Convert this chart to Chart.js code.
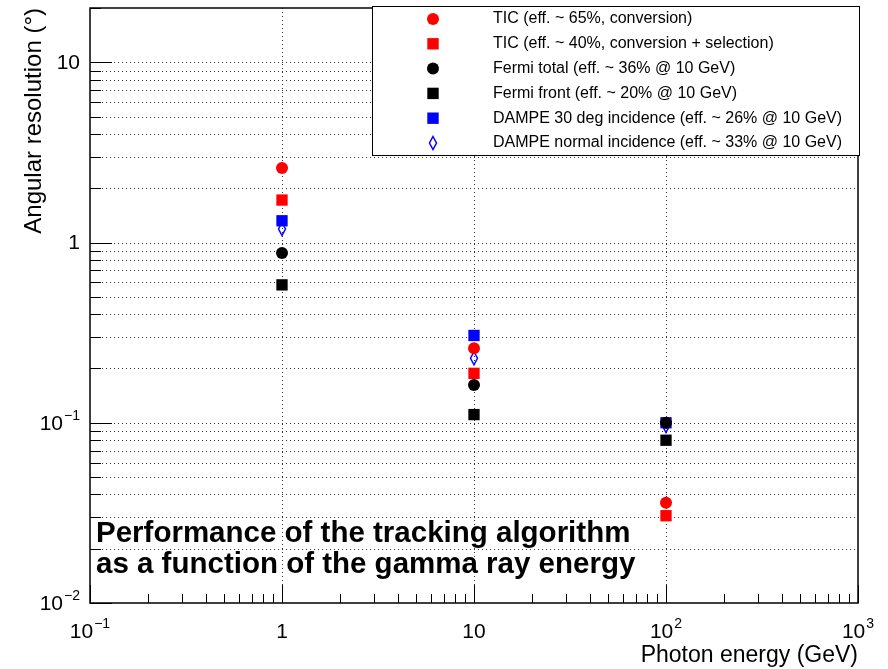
<!DOCTYPE html>
<html>
<head>
<meta charset="utf-8">
<script src="https://cdn.jsdelivr.net/npm/chart.js@4.4.0/dist/chart.umd.min.js"></script>
<style>
  html, body { margin: 0; padding: 0; background: #fff; }
  #wrap { width: 888px; height: 669px; }
</style>
</head>
<body>
<div id="wrap"><canvas id="chart" width="888" height="669"></canvas></div>
<script>
// photon energy (GeV) of each measurement
const energies = [1, 10, 100];

// angular resolution (deg) per sample
const ticConversion = [2.59, 0.259, 0.036];
const ticSelection  = [1.72, 0.188, 0.0305];
const fermiTotal    = [0.875, 0.162, 0.1];
const fermiFront    = [0.582, 0.111, 0.08];
const dampe30deg    = [1.32, 0.305, 0.1];
const dampeNormal   = [1.19, 0.228, 0.096];

const seriesLabels = [
    'TIC (eff. ~ 65%, conversion)',
    'TIC (eff. ~ 40%, conversion + selection)',
    'Fermi total (eff. ~ 36% @ 10 GeV)',
    'Fermi front (eff. ~ 20% @ 10 GeV)',
    'DAMPE 30 deg incidence (eff. ~ 26% @ 10 GeV)',
    'DAMPE normal incidence (eff. ~ 33% @ 10 GeV)'
];

// axis ticks: [base, exponent]
const xMajorTicks = [0.1, 1, 10, 100, 1000];
const xTickLabels = [['10', '\u22121'], ['1', ''], ['10', ''], ['10', '2'], ['10', '3']];
const yMajorTicks = [0.01, 0.1, 1, 10];
const yTickLabels = [['10', '\u22122'], ['10', '\u22121'], ['1', ''], ['10', '']];

const xTitle = 'Photon energy (GeV)';
const yTitle = 'Angular resolution (\u00b0)';
const noteLines = [
    'Performance of the tracking algorithm',
    'as a function of the gamma ray energy'
];

const FONT = '"Liberation Sans", Arial, Helvetica, sans-serif';

// minor ticks 2..9 in each decade
function minorTicks(majors, top) {
    const out = [];
    majors.forEach(m => {
        for (let k = 2; k <= 9; k++) {
            const v = m * k;
            if (v < top * 1.0001) out.push(v);
        }
    });
    return out;
}
const xMinorTicks = minorTicks(xMajorTicks.slice(0, -1), 1000);
const yMinorTicks = minorTicks(yMajorTicks, 20);

// open narrow diamond marker (ROOT style 27)
function diamondMarker() {
    const c = document.createElement('canvas');
    c.width = 10; c.height = 16;
    const g = c.getContext('2d');
    g.strokeStyle = '#0000ff';
    g.lineWidth = 1.5;
    g.beginPath();
    g.moveTo(5, 1.5); g.lineTo(8.5, 8); g.lineTo(5, 14.5); g.lineTo(1.5, 8);
    g.closePath();
    g.stroke();
    return c;
}
const diamond = diamondMarker();

const toPoints = arr => energies.map((e, i) => ({ x: e, y: arr[i] }));

const seriesStyle = [
    { data: ticConversion, color: '#ff0000', shape: 'circle', order: 1 },
    { data: ticSelection,  color: '#ff0000', shape: 'rect',   order: 1 },
    { data: fermiTotal,    color: '#000000', shape: 'circle', order: 0 },
    { data: fermiFront,    color: '#000000', shape: 'rect',   order: 0 },
    { data: dampe30deg,    color: '#0000ff', shape: 'rect',   order: 3 },
    { data: dampeNormal,   color: '#0000ff', shape: 'diamond', order: 2 }
];

function drawMarker(ctx, s, x, y) {
    ctx.fillStyle = s.color;
    if (s.shape === 'circle') {
        ctx.beginPath();
        ctx.arc(x, y, 6, 0, Math.PI * 2);
        ctx.fill();
    } else if (s.shape === 'rect') {
        ctx.fillRect(x - 5.7, y - 5.7, 11.4, 11.4);
    } else {
        ctx.drawImage(diamond, x - diamond.width / 2, y - diamond.height / 2);
    }
}

function powerLabel(ctx, base, exp, x, y, align) {
    ctx.font = '21px ' + FONT;
    const wb = ctx.measureText(base).width;
    ctx.font = '14px ' + FONT;
    const we = exp ? ctx.measureText(exp).width + 1 : 0;
    const total = wb + we;
    const sx = align === 'right' ? x - total : x - total / 2;
    ctx.textAlign = 'left';
    ctx.textBaseline = 'middle';
    ctx.font = '21px ' + FONT;
    ctx.fillText(base, sx, y);
    if (exp) {
        ctx.font = '14px ' + FONT;
        ctx.fillText(exp, sx + wb + 1, y - 8);
    }
}

function seg(ctx, x1, y1, x2, y2) {
    ctx.beginPath();
    ctx.moveTo(x1, y1);
    ctx.lineTo(x2, y2);
    ctx.stroke();
}

const rootFrame = {
    id: 'rootFrame',
    beforeDatasetsDraw(chart) {
        const { ctx, chartArea: a, scales: { x, y } } = chart;
        ctx.save();
        ctx.strokeStyle = '#333';
        ctx.lineWidth = 1;
        ctx.setLineDash([1, 3]);
        xMajorTicks.forEach(v => {
            const px = Math.round(x.getPixelForValue(v)) + 0.5;
            if (px > a.left + 2 && px < a.right - 2) seg(ctx, px, a.top, px, a.bottom);
        });
        yMajorTicks.concat(yMinorTicks).forEach(v => {
            const py = Math.round(y.getPixelForValue(v)) + 0.5;
            if (py > a.top + 2 && py < a.bottom - 2) seg(ctx, a.left, py, a.right, py);
        });
        ctx.restore();
    },
    afterDatasetsDraw(chart) {
        const { ctx, chartArea: a, scales: { x, y } } = chart;
        ctx.save();
        ctx.fillStyle = '#000';
        ctx.strokeStyle = '#000';

        // tick marks
        ctx.lineWidth = 1;
        xMajorTicks.forEach(v => {
            const px = Math.round(x.getPixelForValue(v)) + 0.5;
            seg(ctx, px, a.bottom, px, a.bottom - 18);
        });
        xMinorTicks.forEach(v => {
            const px = Math.round(x.getPixelForValue(v)) + 0.5;
            seg(ctx, px, a.bottom, px, a.bottom - 9);
        });
        yMajorTicks.forEach(v => {
            const py = Math.round(y.getPixelForValue(v)) + 0.5;
            seg(ctx, a.left, py, a.left + 22, py);
        });
        yMinorTicks.forEach(v => {
            const py = Math.round(y.getPixelForValue(v)) + 0.5;
            seg(ctx, a.left, py, a.left + 11, py);
        });

        // frame
        ctx.lineWidth = 1.5;
        ctx.strokeRect(a.left, a.top, a.right - a.left, a.bottom - a.top);

        // tick labels
        xMajorTicks.forEach((v, i) => {
            powerLabel(ctx, xTickLabels[i][0], xTickLabels[i][1], x.getPixelForValue(v), a.bottom + 29, 'center');
        });
        yMajorTicks.forEach((v, i) => {
            powerLabel(ctx, yTickLabels[i][0], yTickLabels[i][1], a.left - 10, y.getPixelForValue(v) + 1, 'right');
        });

        // axis titles
        ctx.textAlign = 'right';
        ctx.textBaseline = 'middle';
        ctx.font = '23px ' + FONT;
        ctx.fillText(xTitle, a.right, a.bottom + 53);
        ctx.save();
        ctx.translate(34, a.top);
        ctx.rotate(-Math.PI / 2);
        ctx.font = '24px ' + FONT;
        ctx.fillText(yTitle, 0, 0);
        ctx.restore();

        // legend box
        const lx = 372, ly = 6, lw = a.right + 1 - 372, lh = 149;
        ctx.fillStyle = '#fff';
        ctx.fillRect(lx, ly, lw, lh);
        ctx.lineWidth = 1;
        ctx.strokeRect(lx + 0.5, ly + 0.5, lw, lh);
        ctx.font = '16px ' + FONT;
        ctx.textAlign = 'left';
        ctx.textBaseline = 'middle';
        seriesStyle.forEach((s, i) => {
            const ry = 19 + i * 24.8;
            drawMarker(ctx, s, 433, ry);
            ctx.fillStyle = '#000';
            ctx.fillText(seriesLabels[i], 493, ry);
        });

        // note
        ctx.font = 'bold 29.5px ' + FONT;
        ctx.textBaseline = 'alphabetic';
        ctx.fillStyle = '#000';
        ctx.fillText(noteLines[0], 96, 542);
        ctx.fillText(noteLines[1], 96, 573);
        ctx.restore();
    }
};

new Chart(document.getElementById('chart'), {
    type: 'scatter',
    data: {
        datasets: seriesStyle.map((s, i) => ({
            label: seriesLabels[i],
            data: toPoints(s.data),
            order: s.order,
            pointStyle: s.shape === 'diamond' ? diamond : s.shape,
            pointRadius: s.shape === 'rect' ? 8 : 6,
            pointBackgroundColor: s.color,
            pointBorderColor: s.color,
            pointBorderWidth: 0,
            showLine: false
        }))
    },
    options: {
        responsive: false,
        animation: false,
        clip: false,
        layout: { padding: { left: 90, right: 30, top: 8, bottom: 66 } },
        plugins: { legend: { display: false }, tooltip: { enabled: false } },
        scales: {
            x: { type: 'logarithmic', min: 0.1, max: 1000, display: false },
            y: { type: 'logarithmic', min: 0.01, max: 20, display: false }
        }
    },
    plugins: [rootFrame]
});
</script>
</body>
</html>
